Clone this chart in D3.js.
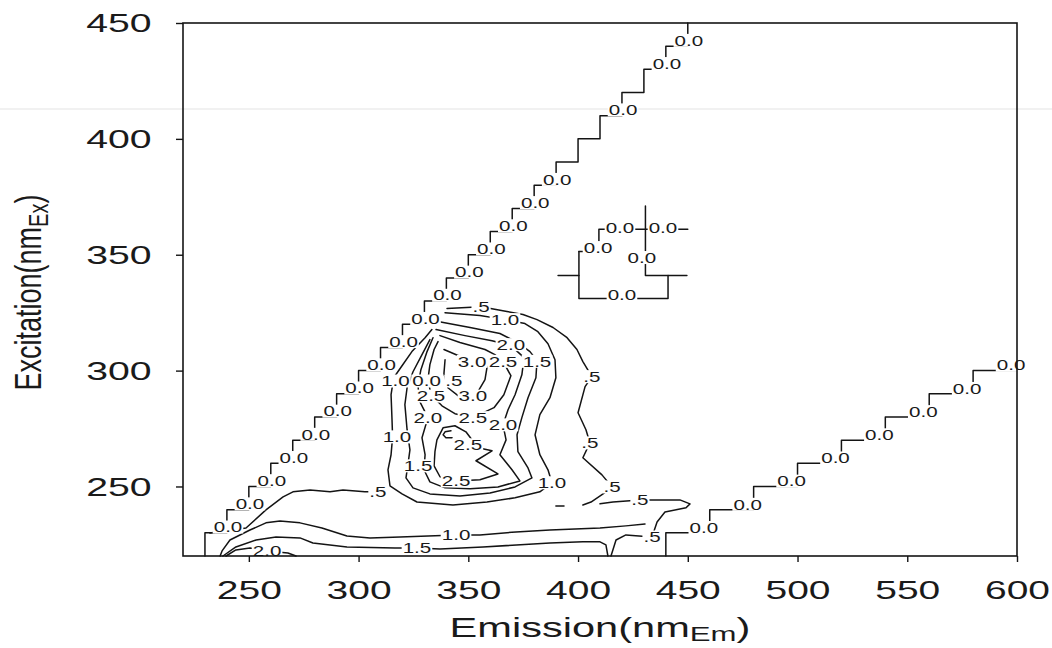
<!DOCTYPE html>
<html><head><meta charset="utf-8">
<script src="https://cdn.jsdelivr.net/npm/d3@7"></script>
<style>
body{margin:0;background:#fff;}
svg{display:block;}
text{font-family:"Liberation Sans",Arial,sans-serif;fill:#1a1a1a;}
</style></head><body>
<svg id="chart" width="1052" height="648"></svg>
<script>
// ---------- axis ticks ----------
const emTicks=[250,300,350,400,450,500,550,600];
const exTicks=[250,300,350,400,450];

// ---------- Rayleigh scatter staircases (0.0 level) ----------
const scatter1Em=[230,240,250,260,270,280,290,300,310,320,330,340,350,360,370,380,390,400,410,420,430,440,450];
const scatter1Ex=[230,240,250,260,270,280,290,300,310,320,330,340,350,360,370,380,390,400,410,420,430,440,450];
const scatter1Labelled=[230,240,250,260,270,280,290,300,310,320,330,340,350,360,370,380,410,430,440];
const scatter2Em=[440,460,480,500,520,540,560,580];
const scatter2Ex=[230,240,250,260,270,280,290,300];

// ---------- contour lines [emission, excitation] ----------
const c05_outer=[[340.3,326.8],[355.8,327.6],[367.6,325.5],[374.9,324.2],[381.3,322.0],[388.6,318.6],[395.0,314.2],[399.5,309.1],[402.2,303.9],[406.3,297.4],[403.2,293.1],[400.0,281.8],[403.6,274.5],[405.4,268.8],[402.2,262.4],[410.9,255.0],[415.5,249.8],[411.4,246.8],[405.9,243.3],[402.2,242.0]];
const c05_right=[[410.0,242.5],[415.9,243.3],[428.2,244.2],[446.4,244.2],[451.0,242.5],[449.2,240.8],[439.6,239.0],[436.0,234.7],[433.7,228.2],[421.8,229.1],[417.3,226.9],[415.0,220]];
const c05_left=[[232.3,229.9],[248.7,232.1],[257.8,239.9],[265.6,245.5],[270.1,247.7],[277.9,248.5],[287.0,247.7],[292.9,248.5],[302.9,247.7],[308.8,247.7]];
const c05_dash=[[389.9,241.6],[393.6,241.6]];
const c10_peak=[[339.4,325.0],[355.3,323.8],[366.7,322.0],[375.8,320.3],[381.7,316.8],[386.3,311.6],[389.5,304.7],[389.9,296.9],[387.2,288.3],[382.6,281.0],[380.4,272.3],[382.6,263.7],[386.3,257.2],[388.1,251.6],[382.6,247.7],[371.3,245.1],[358.5,243.3],[343.0,242.0],[326.6,243.3],[319.8,246.8],[314.3,250.3],[313.4,257.2],[314.8,263.7],[315.5,271.4],[315.2,279.7],[314.8,289.6],[316.0,296.9],[319.8,302.1],[324.3,308.2],[330.3,314.2],[333.4,317.7]];
const c10_bottom=[[236.9,220],[237.8,222.2],[241.4,226.9],[250.5,231.2],[257.8,234.3],[264.2,235.1],[273.3,234.3],[283.3,232.1],[294.7,228.6],[305.2,227.8],[318.9,228.2],[344.4,229.1],[355.3,229.1],[371.7,230.4],[387.2,231.2],[410.0,232.1],[421.8,233.0],[430.5,233.8]];
const c15_peak=[[336.2,321.2],[350.8,318.6],[364.4,316.0],[372.6,312.1],[378.1,308.2],[381.3,304.3],[380.8,296.9],[377.2,288.3],[374.4,279.7],[372.2,272.3],[372.6,265.0],[377.2,258.0],[379.0,253.7],[371.3,249.8],[359.9,247.2],[346.2,245.9],[332.5,246.8],[324.8,249.4],[321.6,253.7],[322.5,259.5],[323.4,265.8],[322.1,274.5],[321.1,285.3],[322.1,292.6],[324.8,299.5],[328.9,306.9],[332.5,313.4]];
const c15_bottom=[[238.2,220],[244.1,223.9],[253.3,226.9],[262.4,228.2],[273.3,227.8],[279.2,225.6],[294.7,223.9],[316.6,223.5],[326.6,223.5],[337.1,223.0],[356.7,223.9],[387.2,225.6],[402.2,226.1],[410.0,226.1],[412.7,224.8],[413.6,220]];
const c20_peak=[[335.3,317.7],[348.5,315.1],[360.8,312.9],[369.4,310.8],[375.4,305.6],[374.4,298.2],[371.3,289.6],[368.1,283.1],[365.8,276.6],[367.2,270.1],[364.4,263.7],[369.9,257.2],[373.5,252.4],[363.5,249.8],[350.8,249.0],[339.4,249.4],[332.5,252.0],[329.8,257.2],[330.3,263.7],[328.9,271.0],[331.6,279.7],[327.5,287.4],[327.1,293.9],[328.4,300.4],[331.2,308.2],[333.9,314.2]];
const c20_bottom=[[239.6,220],[244.1,222.6],[250.5,223.5],[258.3,222.2],[267.8,221.3],[271.5,220]];
const c25_upper=[[337.1,315.1],[346.2,312.1],[357.6,309.1],[362.1,306.9],[365.8,304.0],[369.4,297.8],[366.2,289.6],[361.7,284.0],[352.1,279.7],[343.9,281.4],[338.0,284.8],[333.0,289.6],[331.6,296.1],[332.5,302.6],[334.4,309.1],[336.2,312.5]];
const c25_lower=[[335.7,270.1],[338.5,275.3],[343.9,276.2],[348.9,273.6],[354.4,266.7],[360.8,265.4],[353.5,261.1],[363.5,255.4],[355.3,252.9],[344.4,252.4],[337.1,254.2],[334.4,258.9],[334.8,265.0],[335.7,270.1]];
const c30_upper=[[338.9,309.1],[345.3,306.5],[351.7,304.0],[357.1,305.6],[358.5,301.3],[357.6,296.1],[354.4,290.9],[352.1,289.6],[345.3,289.2],[340.7,292.6],[338.9,298.7],[339.4,304.7]];
const c30_small=[[342.1,274.0],[339.4,273.6],[338.5,272.3],[339.8,271.0],[342.6,271.0]];
// small 0.0 patch
const zeroA=[[390.9,341.0],[400.4,341.0]];
const zeroB=[[400.4,351.4],[400.4,331.1],[441.0,331.1],[441.0,341.0]];
const zeroC=[[449.6,341.0],[430.7,341.0],[430.7,371.0]];
const zeroD=[[400.4,351.4],[409.5,351.4],[409.5,361.0],[450.0,361.0]];

// ---------- contour labels [emission, excitation, text] ----------
const peakLabels=[
 [355.8,327.6,".5"],[366.7,322.0,"1.0"],[369.4,311.2,"2.0"],
 [351.7,304.0,"3.0"],[365.8,304.0,"2.5"],[381.3,304.0,"1.5"],[406.3,297.4,".5"],
 [316.8,295.5,"1.0"],[331.0,295.5,"0.0"],[343.4,295.5,".5"],
 [333.0,289.0,"2.5"],[352.1,289.0,"3.0"],
 [331.6,279.7,"2.0"],[352.1,279.7,"2.5"],[365.8,276.6,"2.0"],
 [317.5,271.4,"1.0"],[349.8,268.0,"2.5"],[405.4,268.8,".5"],
 [327.1,258.9,"1.5"],[344.4,252.4,"2.5"],[388.1,251.6,"1.0"],[415.5,249.8,".5"],
 [308.8,247.7,".5"],[428.2,244.2,".5"],
 [344.4,229.1,"1.0"],[433.7,228.2,".5"],[326.6,223.5,"1.5"],[258.3,222.2,"2.0"]
];
const zeroLabels=[[420.0,332.5,"0.0"],[429.1,348.8,"0.0"],[409.1,353.1,"0.0"],[419.1,361.8,"0.0"],[438.7,361.8,"0.0"]];

// ---------- drawing ----------
const W=1052,H=648;
const svg=d3.select("#chart");
const x=d3.scaleLinear().domain([220,600]).range([183,1017]);
const y=d3.scaleLinear().domain([220,450]).range([556,23]);
const line=d3.line().x(d=>x(d[0])).y(d=>y(d[1]));
const INK="#141414";

// faint scan artefact line
svg.append("line").attr("x1",0).attr("x2",W).attr("y1",109).attr("y2",109)
  .attr("stroke","#f1f1f1").attr("stroke-width",2);

// staircase points
function stairs(ems,exs,endEm){
  const pts=[];
  ems.forEach((e,i)=>{pts.push([e,i===0?220:exs[i-1]]);pts.push([e,exs[i]]);});
  if(endEm!==undefined) pts.push([endEm,exs[exs.length-1]]);
  return pts;
}
const paths=[stairs(scatter1Em,scatter1Ex),stairs(scatter2Em,scatter2Ex,600),
  c05_outer,c05_right,c05_left,c05_dash,c10_peak,c10_bottom,c15_peak,c15_bottom,
  c20_peak,c20_bottom,c25_upper,c25_lower,c30_upper,c30_small,zeroA,zeroB,zeroC,zeroD];

const lineLayer=svg.append("g");
lineLayer.selectAll("path").data(paths).join("path")
  .attr("d",line).attr("fill","none").attr("stroke",INK)
  .attr("stroke-width",1.5).attr("stroke-linejoin","round").attr("stroke-linecap","round");

// labels (with knockout)
const allLabels=[];
scatter1Labelled.forEach(e=>allLabels.push([e+10.5,e+2.5,"0.0"]));
scatter2Ex.forEach((e,i)=>allLabels.push([scatter2Em[i]+17.3,e+2.3,"0.0"]));
peakLabels.forEach(d=>allLabels.push(d));
zeroLabels.forEach(d=>allLabels.push(d));

const SX=1.42;
const rectLayer=svg.append("g");
const textLayer=svg.append("g");
const lt=textLayer.selectAll("text").data(allLabels).join("text")
  .attr("transform",d=>`translate(${x(d[0])},${y(d[1])}) scale(${SX},1)`)
  .attr("text-anchor","middle").attr("y",5.2).attr("font-size",14.5).attr("fill","#111")
  .text(d=>d[2]);
lt.each(function(d){
  const w=this.getComputedTextLength()*SX;
  rectLayer.append("rect").attr("x",x(d[0])-w/2-1).attr("y",y(d[1])-6.5)
    .attr("width",w+2).attr("height",13).attr("fill","#fff");
});

// frame
svg.append("rect").attr("x",x(220)).attr("y",y(450)).attr("width",x(600)-x(220)).attr("height",y(220)-y(450))
  .attr("fill","none").attr("stroke",INK).attr("stroke-width",1.6);

// axes
const gx=svg.append("g").attr("transform",`translate(0,${y(220)})`)
  .call(d3.axisBottom(x).tickValues(emTicks).tickSize(6).tickSizeOuter(0).tickFormat(d3.format("d")));
gx.select(".domain").remove();
gx.selectAll("line").attr("stroke",INK).attr("stroke-width",1.4);
gx.selectAll("text").attr("y",43).attr("dy",null).attr("font-size",25)
  .attr("transform","scale(1.56,1)").attr("fill","#2a2a2a");

const gy=svg.append("g").attr("transform",`translate(${x(220)},0)`)
  .call(d3.axisLeft(y).tickValues(exTicks).tickSize(7).tickSizeOuter(0).tickFormat(d3.format("d")));
gy.select(".domain").remove();
gy.selectAll("line").attr("stroke",INK).attr("stroke-width",1.4);
gy.selectAll("text").attr("x",-20).attr("dy","0.35em").attr("font-size",25)
  .attr("transform","scale(1.57,1)").attr("fill","#2a2a2a");

// titles
const xt=svg.append("text").attr("font-size",28).attr("text-anchor","middle").attr("fill","#222");
xt.append("tspan").text("Emission(nm");
xt.append("tspan").attr("font-size",21).attr("dy",4).text("Em");
xt.append("tspan").attr("dy",-4).text(")");
const xw=xt.node().getComputedTextLength();
xt.attr("transform",`translate(${(x(220)+x(600))/2},637) scale(${301/xw},1)`);

const yt=svg.append("text").attr("font-size",27).attr("text-anchor","middle").attr("fill","#222")
  .attr("transform",`translate(41,${(y(220)+y(450))/2+3}) rotate(-90) scale(1,1.4)`);
yt.append("tspan").text("Excitation(nm");
yt.append("tspan").attr("font-size",20).attr("dy",5).text("Ex");
yt.append("tspan").attr("dy",-5).text(")");
</script>
</body></html>
